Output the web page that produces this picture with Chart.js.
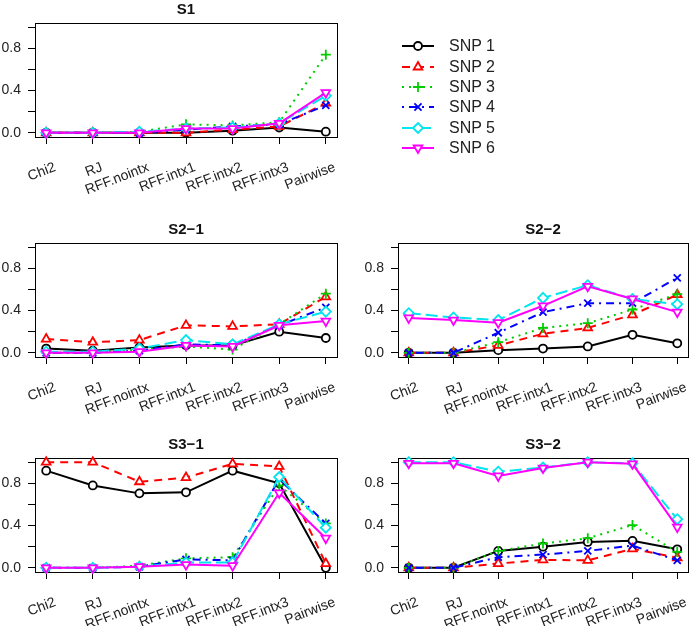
<!DOCTYPE html>
<html>
<head>
<meta charset="utf-8">
<script src="https://cdn.jsdelivr.net/npm/chart.js@4.4.0/dist/chart.umd.min.js"></script>
<style>
  html, body { margin: 0; padding: 0; background: #fff; }
  body { width: 700px; height: 626px; position: relative; overflow: hidden;
         font-family: "Liberation Sans", Arial, sans-serif; }
  canvas.panel { position: absolute; }
  #legend { position: absolute; left: 400px; top: 36px; }
  .row { display: flex; align-items: center; height: 20.4px; }
  .row span { font-size: 16px; color: #222; margin-left: 13px; line-height: 16px; }
</style>
</head>
<body>
<canvas class="panel" id="s1" width="350" height="205" style="left:0;top:0"></canvas>
<canvas class="panel" id="s21" width="350" height="205" style="left:0;top:220px"></canvas>
<canvas class="panel" id="s22" width="350" height="205" style="left:350px;top:220px"></canvas>
<canvas class="panel" id="s31" width="350" height="205" style="left:0;top:435px"></canvas>
<canvas class="panel" id="s32" width="350" height="205" style="left:350px;top:435px"></canvas>
<div id="legend"></div>

<script>
// x categories and y tick labels
const categories = ['Chi2', 'RJ', 'RFF.nointx', 'RFF.intx1', 'RFF.intx2', 'RFF.intx3', 'Pairwise'];
const yLabelTicks = [0, 0.4, 0.8];

// series
const snpNames = ['SNP 1', 'SNP 2', 'SNP 3', 'SNP 4', 'SNP 5', 'SNP 6'];
const snpColors = ['#000000', '#ff0000', '#00cd00', '#0000ff', '#00e5ee', '#ff00ff'];
const snpDash = [[], [8, 6], [2, 5], [2, 5, 8, 5], [12, 5], []];
const snpMarkers = ['circle', 'triangle', 'cross', 'crossRot', 'rectRot', 'triangle'];
const snpRotation = [0, 0, 0, 0, 0, 180];

// one row per SNP, one value per category
const dataS1 = [
    [0, 0, 0, 0.00, 0.02, 0.05, 0.01],
    [0, 0, 0, 0.00, 0.03, 0.06, 0.28],
    [0, 0, 0.01, 0.08, 0.07, 0.10, 0.74],
    [0, 0, 0, 0.03, 0.06, 0.08, 0.26],
    [0, 0, 0.01, 0.04, 0.05, 0.09, 0.35],
    [0, 0, 0, 0.04, 0.04, 0.09, 0.38]
];
const dataS21 = [
    [0.04, 0.02, 0.05, 0.07, 0.07, 0.20, 0.14],
    [0.13, 0.10, 0.12, 0.26, 0.25, 0.27, 0.53],
    [0, 0, 0.03, 0.06, 0.03, 0.27, 0.56],
    [0, 0, 0.02, 0.08, 0.07, 0.26, 0.43],
    [0.01, 0.01, 0.04, 0.12, 0.08, 0.27, 0.39],
    [0, 0, 0.01, 0.07, 0.06, 0.26, 0.30]
];
const dataS22 = [
    [0, 0, 0.025, 0.04, 0.06, 0.17, 0.09],
    [0, 0, 0.07, 0.18, 0.235, 0.36, 0.55],
    [0, 0, 0.10, 0.235, 0.28, 0.41, 0.555],
    [0, 0, 0.19, 0.385, 0.47, 0.47, 0.71],
    [0.375, 0.335, 0.31, 0.52, 0.64, 0.51, 0.46],
    [0.33, 0.31, 0.285, 0.445, 0.63, 0.51, 0.385]
];
const dataS31 = [
    [0.92, 0.78, 0.705, 0.715, 0.92, 0.80, 0.0],
    [1.0, 1.0, 0.815, 0.855, 0.985, 0.96, 0.04],
    [0, 0, 0.02, 0.09, 0.10, 0.78, 0.42],
    [0, 0, 0.01, 0.08, 0.07, 0.84, 0.42],
    [0, 0, 0.01, 0.05, 0.05, 0.86, 0.38],
    [0, 0, 0.01, 0.03, 0.02, 0.71, 0.28]
];
const dataS32 = [
    [0, 0, 0.16, 0.20, 0.245, 0.255, 0.175],
    [0, 0, 0.04, 0.075, 0.07, 0.18, 0.095],
    [0, 0, 0.16, 0.23, 0.28, 0.405, 0.15],
    [0, 0, 0.10, 0.125, 0.16, 0.21, 0.07],
    [1.0, 1.0, 0.91, 0.95, 1.0, 0.99, 0.46],
    [0.99, 0.99, 0.87, 0.945, 1.0, 0.985, 0.385]
];

const tickFont = { family: 'Liberation Sans', size: 14 };

// R-style frame around the plot region
const boxPlugin = {
    id: 'box',
    beforeDatasetsDraw(chart) {
        const a = chart.chartArea, c = chart.ctx;
        c.save();
        c.strokeStyle = '#000';
        c.lineWidth = 1;
        c.strokeRect(Math.round(a.left) + 0.5, Math.round(a.top) + 0.5,
                     Math.round(a.right - a.left), Math.round(a.bottom - a.top));
        c.restore();
    }
};

function makePanel(id, title, rows, yWidth, rightPad) {
    const datasets = rows.map((vals, i) => ({
        label: snpNames[i],
        data: vals.map((v, k) => ({ x: k, y: v })),
        borderColor: snpColors[i],
        borderWidth: 2,
        borderDash: snpDash[i],
        pointStyle: snpMarkers[i],
        rotation: snpRotation[i],
        pointRadius: snpMarkers[i] === 'circle' ? 4 : 5,
        pointBorderWidth: 1.8,
        pointBorderColor: snpColors[i],
        pointBackgroundColor: '#fff',
        tension: 0,
        order: 5 - i,
        clip: 10
    }));

    return new Chart(document.getElementById(id), {
        type: 'line',
        data: { datasets },
        options: {
            responsive: false,
            animation: false,
            layout: { padding: { left: 0, right: rightPad, top: 0, bottom: 0 } },
            scales: {
                x: {
                    type: 'linear',
                    min: -0.24,
                    max: 6.24,
                    border: { display: false },
                    grid: { drawOnChartArea: false, drawTicks: true, tickLength: 7, color: '#000' },
                    ticks: {
                        stepSize: 1,
                        includeBounds: false,
                        autoSkip: false,
                        minRotation: 21,
                        maxRotation: 21,
                        padding: 15,
                        labelOffset: 9,
                        color: '#222',
                        font: tickFont,
                        callback: v => categories[v] ?? ''
                    },
                    afterFit(s) { s.height = 68; s.paddingLeft = 0; s.paddingRight = 0; }
                },
                y: {
                    min: -0.04,
                    max: 1.04,
                    border: { display: false },
                    grid: { drawOnChartArea: false, drawTicks: true, tickLength: 7, color: '#000' },
                    ticks: {
                        stepSize: 0.2,
                        includeBounds: false,
                        padding: 7,
                        color: '#222',
                        font: tickFont,
                        callback: v => yLabelTicks.some(t => Math.abs(t - v) < 1e-6) ? v.toFixed(1) : ''
                    },
                    afterFit(s) { s.width = yWidth; s.paddingTop = 0; s.paddingBottom = 0; }
                }
            },
            plugins: {
                legend: { display: false },
                tooltip: { enabled: false },
                title: {
                    display: true,
                    text: title,
                    fullSize: false,
                    color: '#111',
                    font: { family: 'Liberation Sans', size: 15, weight: 'bold' },
                    padding: { top: 1, bottom: 4 }
                }
            }
        },
        plugins: [boxPlugin]
    });
}

makePanel('s1', 'S1', dataS1, 35, 13);
makePanel('s21', 'S2\u22121', dataS21, 35, 13);
makePanel('s22', 'S2\u22122', dataS22, 48, 12);
makePanel('s31', 'S3\u22121', dataS31, 35, 13);
makePanel('s32', 'S3\u22122', dataS32, 48, 12);

// legend: line sample with marker, then name
const legend = document.getElementById('legend');
snpNames.forEach((name, i) => {
    const row = document.createElement('div');
    row.className = 'row';
    const cv = document.createElement('canvas');
    cv.width = 36; cv.height = 20;
    const ctx = cv.getContext('2d');
    ctx.strokeStyle = snpColors[i];
    ctx.fillStyle = '#fff';
    ctx.lineWidth = 2;
    ctx.setLineDash(snpDash[i]);
    ctx.beginPath();
    ctx.moveTo(2, 10);
    ctx.lineTo(34, 10);
    ctx.stroke();
    ctx.setLineDash([]);
    ctx.lineWidth = 1.8;
    if (Chart.helpers && Chart.helpers.drawPoint) {
        Chart.helpers.drawPoint(ctx, {
            pointStyle: snpMarkers[i],
            rotation: snpRotation[i],
            radius: snpMarkers[i] === 'circle' ? 4 : 5,
            borderWidth: 1.8
        }, 18, 10);
    }
    const label = document.createElement('span');
    label.textContent = name;
    row.appendChild(cv);
    row.appendChild(label);
    legend.appendChild(row);
});
</script>
</body>
</html>
